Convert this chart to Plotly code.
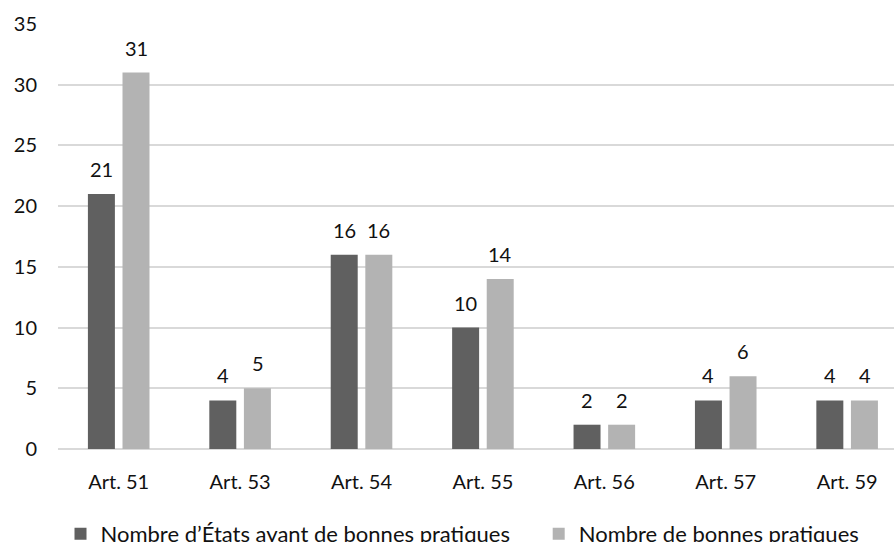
import plotly.graph_objects as go

# Categories and series values
articles = ["Art. 51", "Art. 53", "Art. 54", "Art. 55", "Art. 56", "Art. 57", "Art. 59"]
etats = [21, 4, 16, 10, 2, 4, 4]
pratiques = [31, 5, 16, 14, 2, 6, 4]
series_names = ["Nombre d’États ayant de bonnes pratiques", "Nombre de bonnes pratiques"]
y_ticks = [0, 5, 10, 15, 20, 25, 30, 35]

DARK = "#606060"
LIGHT = "#b3b3b3"
FONT = "Lato"
TEXT = "#111111"

W, H = 894, 542
M_L, M_R, M_T, M_B = 58, 0, 24, 93

fig = go.Figure()
fig.add_trace(go.Bar(x=articles, y=etats, name=series_names[0], legend="legend",
                     marker=dict(color=DARK, line=dict(width=0))))
fig.add_trace(go.Bar(x=articles, y=pratiques, name=series_names[1], legend="legend2",
                     marker=dict(color=LIGHT, line=dict(width=0))))

# Value labels above each bar
slot_px = 17.4
for vals, shift in ((etats, -slot_px), (pratiques, slot_px)):
    for cat, v in zip(articles, vals):
        fig.add_annotation(x=cat, y=v, text=str(v), showarrow=False,
                           xshift=shift, yshift=25, yanchor="middle",
                           font=dict(family=FONT, size=20, color=TEXT))

legend_style = dict(orientation="h", xanchor="left", y=-0.2, yanchor="middle",
                    font=dict(family=FONT, size=22, color=TEXT),
                    bgcolor="rgba(0,0,0,0)")

fig.update_layout(
    width=W, height=H,
    margin=dict(l=M_L, r=M_R, t=M_T, b=M_B, autoexpand=False),
    paper_bgcolor="white", plot_bgcolor="white",
    barmode="group", bargap=0.43, bargroupgap=0.22,
    font=dict(family=FONT, size=20, color=TEXT),
    showlegend=True,
    legend=dict(x=0.003, **legend_style),
    legend2=dict(x=0.575, **legend_style),
    xaxis=dict(range=[-0.5, 6.386], showgrid=False, showline=False, zeroline=False,
               ticks="", ticklabelstandoff=19, tickfont=dict(size=20)),
    yaxis=dict(range=[0, 35], tickvals=y_ticks, showgrid=True, gridcolor="#d9d9d9",
               gridwidth=1.5, zeroline=True, zerolinecolor="#d9d9d9", zerolinewidth=1.5,
               showline=False, ticks="", ticklabelstandoff=20, tickfont=dict(size=20)),
)

fig.write_html("out.html")
